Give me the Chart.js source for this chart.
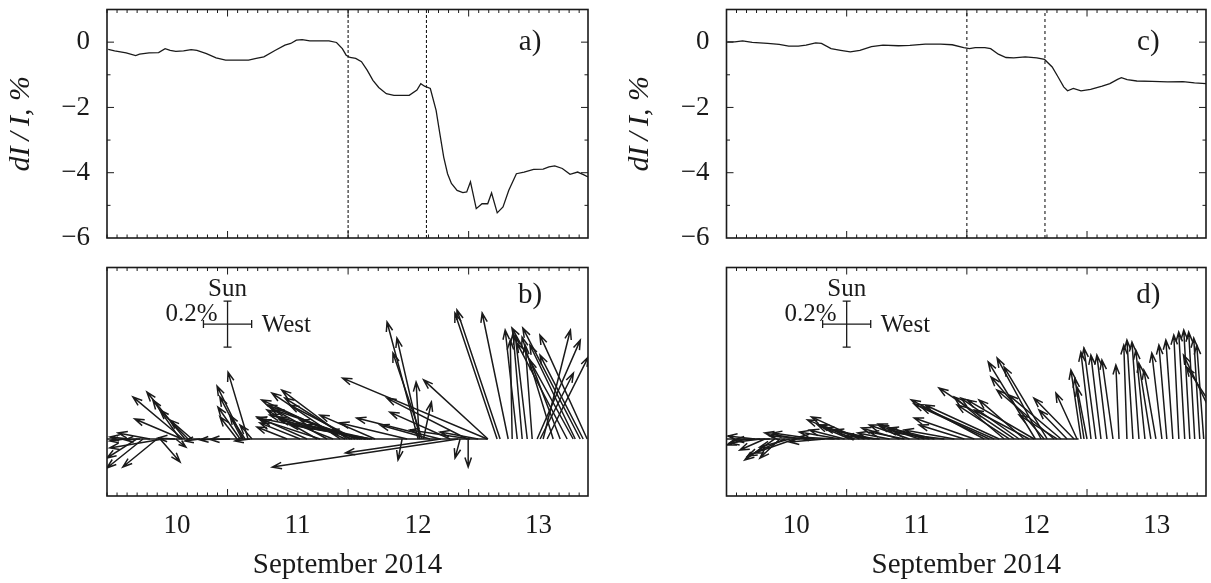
<!DOCTYPE html>
<html>
<head>
<meta charset="utf-8">
<script src="https://cdn.jsdelivr.net/npm/chart.js@4.4.0/dist/chart.umd.min.js"></script>
<style>
  body { margin: 0; background: #fff; width: 1211px; height: 583px; overflow: hidden; position: relative; }
  canvas { position: absolute; }
</style>
</head>
<body>
<canvas id="panelA" width="600" height="250" style="left:0;top:0"></canvas>
<canvas id="panelB" width="600" height="333" style="left:0;top:250px"></canvas>
<canvas id="panelC" width="606" height="250" style="left:605px;top:0"></canvas>
<canvas id="panelD" width="606" height="333" style="left:605px;top:250px"></canvas>
<script>
const FONT = "'Liberation Serif', 'Times New Roman', serif";
const INK = '#1a1a1a';

// time axis, days of September 2014
const xMin = 9.42, xMax = 13.41;
const dayLabels = [10, 11, 12, 13];
const majorTicks = [10.42, 11.42, 12.42];
const minorStep = 1 / 12;          // 2 hours
const eventTimes = [11.42, 12.07]; // dashed markers
const yTicksTop = [-6, -4, -2, 0];

// a) intensity variation, %
const timeA = [9.43, 9.483, 9.579, 9.658, 9.69, 9.769, 9.848, 9.902, 9.944, 9.991, 10.055, 10.118,
  10.166, 10.245, 10.325, 10.404, 10.499, 10.594, 10.658, 10.721, 10.817, 10.896, 10.944, 10.991,
  11.039, 11.102, 11.166, 11.261, 11.324, 11.372, 11.404, 11.436, 11.483, 11.531, 11.578, 11.626,
  11.674, 11.737, 11.8, 11.864, 11.927, 11.991, 12.023, 12.054, 12.102, 12.15, 12.181, 12.213,
  12.245, 12.277, 12.324, 12.372, 12.404, 12.435, 12.483, 12.531, 12.578, 12.61, 12.657, 12.705,
  12.753, 12.816, 12.88, 12.959, 13.038, 13.086, 13.134, 13.197, 13.261, 13.324, 13.372, 13.41];
const intensA = [-0.22, -0.27, -0.33, -0.41, -0.37, -0.33, -0.32, -0.2, -0.25, -0.28, -0.27, -0.23,
  -0.25, -0.35, -0.48, -0.55, -0.55, -0.55, -0.5, -0.45, -0.25, -0.09, -0.04, 0.06,
  0.08, 0.04, 0.04, 0.04, -0.01, -0.2, -0.4, -0.47, -0.5, -0.6, -0.86, -1.17,
  -1.39, -1.58, -1.63, -1.63, -1.63, -1.47, -1.27, -1.35, -1.42, -2.09, -2.8, -3.52,
  -4.03, -4.33, -4.54, -4.61, -4.59, -4.28, -5.1, -4.95, -4.95, -4.62, -5.23, -5.05,
  -4.54, -4.03, -3.98, -3.9, -3.89, -3.82, -3.79, -3.87, -4.05, -3.98, -4.06, -4.13];

// c) intensity variation, %
const timeC = [9.426, 9.49, 9.554, 9.634, 9.762, 9.858, 9.938, 10.018, 10.082, 10.162, 10.21, 10.29,
  10.37, 10.45, 10.53, 10.626, 10.722, 10.85, 10.946, 11.074, 11.202, 11.298, 11.394, 11.442,
  11.49, 11.57, 11.618, 11.682, 11.746, 11.81, 11.906, 12.002, 12.066, 12.13, 12.178, 12.226,
  12.258, 12.306, 12.37, 12.45, 12.546, 12.61, 12.674, 12.706, 12.754, 12.834, 12.962, 13.09,
  13.218, 13.314, 13.41];
const intensC = [0.01, 0.01, 0.04, -0.01, -0.04, -0.07, -0.12, -0.12, -0.09, -0.02, -0.04, -0.2,
  -0.25, -0.3, -0.25, -0.14, -0.09, -0.11, -0.1, -0.06, -0.06, -0.08, -0.17, -0.2,
  -0.17, -0.17, -0.2, -0.37, -0.47, -0.48, -0.45, -0.48, -0.53, -0.76, -1.06, -1.37,
  -1.49, -1.42, -1.49, -1.45, -1.35, -1.27, -1.14, -1.09, -1.15, -1.19, -1.2, -1.22,
  -1.21, -1.25, -1.27];

// b) anisotropy vectors: base time, west and sunward components, %
const timeB = [9.569, 9.611, 9.669, 9.694, 9.719, 9.777, 9.835, 9.86, 9.885, 9.984, 9.99,
  10.026, 10.042, 10.051, 10.067, 10.092, 10.125, 10.192, 10.316, 10.441, 10.499, 10.524, 10.54,
  10.549, 10.565, 10.59, 10.607, 10.623, 10.914, 11.022, 11.08, 11.163, 11.188, 11.246, 11.296,
  11.354, 11.395, 11.412, 11.437, 11.453, 11.478, 11.503, 11.52, 11.536, 11.561, 11.569, 11.586,
  11.603, 11.619, 11.644, 11.868, 11.91, 12.001, 12.01,
  12.017, 12.034, 12.045, 12.1, 12.183, 12.19, 12.266, 12.333, 12.349, 12.408, 12.416, 12.432,
  12.499, 12.574, 12.58, 12.656, 12.681, 12.748, 12.781, 12.823, 12.864, 12.906, 12.947, 12.988,
  13.013, 13.038, 13.071, 13.121, 13.179, 13.237, 13.287, 13.304, 13.345, 13.37, 13.403];
const westB = [-0.063, -0.083, -0.125, -0.063, -0.15, -0.133, -0.142, 0.083, -0.221, -0.071, 0.042,
  -0.113, -0.196, -0.208, -0.158, -0.117, -0.092, -0.063, -0.063, -0.083, -0.071, -0.092, -0.092,
  -0.108, -0.063, -0.083, -0.063, -0.05, -0.125, -0.167, -0.208, -0.208, -0.242, -0.238, -0.233,
  -0.283, -0.346, -0.271, -0.271, -0.35, -0.271, -0.346, -0.25, -0.383, -0.25, -0.358, -0.458,
  -0.167, -0.342, -0.229, -0.017, -0.279, -0.129, -0.013,
  -0.096, -0.121, 0.033, -0.208, -0.346, -0.396, -0.25, -0.771, -0.021, -0.333, 0, -0.25,
  -0.158, -0.6, -0.267, -0.175, -0.179, -0.108, -0.008, -0.05, -0.038, -0.05, -0.029, 0.179,
  0.138, 0.113, 0.171, -0.129, -0.125, -0.208, -0.254, -0.188, -0.238, -0.179, -0.196];
const sunB = [-0.009, 0.009, -0.083, -0.004, -0.126, 0.026, -0.122, -0.1, -0.039, 0.004, -0.035,
  0.17, 0.087, 0.183, 0.204, 0.126, 0.083, -0.009, -0.004, -0.002, 0.096, 0.139, 0.183,
  0.23, 0.104, 0.291, -0.009, 0.061, 0.052, 0.07, 0.096, 0.126, 0.083, 0.139, 0.096,
  0.2, 0.17, 0.213, 0.178, 0.148, 0.148, 0.126, 0.083, 0.104, 0.061, 0.083, 0.091,
  0.039, 0.061, 0.104, -0.091, 0.07, 0.509, 0.248,
  0.439, 0.374, 0.161, 0.061, 0.091, -0.061, 0.117, -0.122, -0.083, 0.178, -0.122, 0.039,
  0.03, 0.265, 0.257, 0.548, 0.561, 0.548, 0.43, 0.474, 0.461, 0.452, 0.409, 0.43,
  0.287, 0.474, 0.357, 0.443, 0.343, 0.417, 0.483, 0.409, 0.483, 0.365, 0.452];

// d) anisotropy vectors
const timeD = [9.574, 9.657, 9.698, 9.739, 9.781, 9.822, 9.864, 9.905, 9.947, 9.988,
  10.03, 10.113, 10.154, 10.237, 10.32, 10.361, 10.403, 10.444, 10.486, 10.527,
  10.569, 10.611, 10.652, 10.694, 10.777, 10.86, 10.901, 10.943, 11.026, 11.067,
  11.109, 11.15, 11.233, 11.316, 11.399, 11.482, 11.565, 11.607, 11.648, 11.689,
  11.731, 11.773, 11.814, 11.855, 11.897, 11.939, 11.98, 11.99, 12.038, 12.063,
  12.088, 12.146, 12.171, 12.204, 12.254, 12.312, 12.337, 12.37, 12.395, 12.42,
  12.453, 12.494, 12.536, 12.586, 12.636, 12.686, 12.752, 12.802, 12.852, 12.902,
  12.951, 12.993, 13.043, 13.084, 13.134, 13.184, 13.233, 13.275, 13.316, 13.358,
  13.391, 13.557, 13.64];
const westD = [-0.075, -0.113, -0.125, -0.104, -0.146, -0.125, -0.083, -0.154, -0.125, -0.167,
  -0.146, -0.167, -0.175, -0.146, -0.146, -0.167, -0.146, -0.133, -0.196, -0.2,
  -0.188, -0.188, -0.167, -0.146, -0.133, -0.158, -0.146, -0.167, -0.167, -0.192,
  -0.175, -0.188, -0.208, -0.208, -0.188, -0.25, -0.304, -0.313, -0.304, -0.308,
  -0.208, -0.217, -0.313, -0.242, -0.188, -0.229, -0.279, -0.196, -0.183, -0.221,
  -0.179, -0.238, -0.158, -0.217, -0.117, -0.167, -0.088, -0.042, -0.038, -0.042,
  -0.042, -0.05, -0.042, -0.042, -0.046, -0.013, -0.013, -0.025, -0.029, -0.038,
  -0.05, -0.05, -0.042, -0.033, -0.029, -0.021, -0.025, -0.025, -0.025, -0.025,
  -0.029, -0.167, -0.196];
const sunD = [-0.026, 0.013, -0.017, -0.048, -0.004, -0.091, -0.083, -0.074, -0.035, -0.061,
  0.026, 0.013, 0.026, -0.013, 0.009, 0.03, 0.039, 0.061, 0.083, 0.096,
  0.061, 0.048, 0.039, 0.013, 0.026, 0.048, 0.03, 0.061, 0.057, 0.065,
  0.039, 0.048, 0.026, 0.039, 0.061, 0.091, 0.17, 0.152, 0.139, 0.148,
  0.183, 0.148, 0.222, 0.178, 0.17, 0.126, 0.17, 0.335, 0.352, 0.27,
  0.313, 0.213, 0.104, 0.191, 0.126, 0.178, 0.2, 0.3, 0.265, 0.226,
  0.378, 0.396, 0.365, 0.365, 0.343, 0.322, 0.409, 0.43, 0.422, 0.387,
  0.33, 0.3, 0.374, 0.409, 0.43, 0.452, 0.465, 0.474, 0.465, 0.439,
  0.409, 0.365, 0.313];

const daysPerPercent = 2;            // horizontal size of a 1% vector, in days
const vecMin = -0.248, vecMax = 0.746;
const zeroEndB = 12.58, zeroEndD = 12.35;
const keyTime = 10.42, keySun = 0.5, keyLen = 0.2;

const minus = v => String(v).replace('-', '\u2212');

function framePlugin(withY) {
  return {
    id: 'frame',
    afterDatasetsDraw(chart) {
      const { ctx, chartArea: a, scales: { x, y } } = chart;
      ctx.save();
      ctx.strokeStyle = INK;
      ctx.lineWidth = 1;
      ctx.beginPath();
      for (let k = 0; xMin + k * minorStep <= xMax + 1e-6; k++) {
        const v = xMin + k * minorStep;
        const major = majorTicks.some(m => Math.abs(m - v) < 1e-3);
        const len = major ? 7 : 3.5;
        const px = x.getPixelForValue(v);
        ctx.moveTo(px, a.bottom); ctx.lineTo(px, a.bottom - len);
        ctx.moveTo(px, a.top); ctx.lineTo(px, a.top + len);
      }
      if (withY) {
        for (let v = -5; v <= 0; v++) {
          const len = v % 2 === 0 ? 7 : 3.5;
          const py = y.getPixelForValue(v);
          ctx.moveTo(a.left, py); ctx.lineTo(a.left + len, py);
          ctx.moveTo(a.right, py); ctx.lineTo(a.right - len, py);
        }
      }
      ctx.stroke();
      ctx.lineWidth = 1.6;
      ctx.strokeRect(a.left, a.top, a.right - a.left, a.bottom - a.top);
      ctx.restore();
    }
  };
}

function labelPlugin(text, xv, yv) {
  return {
    id: 'panelLabel',
    afterDatasetsDraw(chart) {
      const { ctx, scales: { x, y } } = chart;
      ctx.save();
      ctx.fillStyle = INK;
      ctx.font = '29px ' + FONT;
      ctx.textAlign = 'center';
      ctx.textBaseline = 'middle';
      ctx.fillText(text, x.getPixelForValue(xv), y.getPixelForValue(yv));
      ctx.restore();
    }
  };
}

function vectorPlugin(time, west, sun) {
  return {
    id: 'vectors',
    afterDatasetsDraw(chart) {
      const { ctx, chartArea: a, scales: { x, y } } = chart;
      ctx.save();
      ctx.beginPath();
      ctx.rect(a.left, a.top, a.right - a.left, a.bottom - a.top);
      ctx.clip();
      ctx.strokeStyle = INK;
      ctx.lineWidth = 1.5;
      const y0 = y.getPixelForValue(0);
      time.forEach((t, i) => {
        const x0 = x.getPixelForValue(t);
        const x1 = x.getPixelForValue(t + west[i] * daysPerPercent);
        const y1 = y.getPixelForValue(sun[i]);
        const ang = Math.atan2(y1 - y0, x1 - x0);
        const h = Math.min(10, Math.hypot(x1 - x0, y1 - y0) * 0.6);
        ctx.beginPath();
        ctx.moveTo(x0, y0);
        ctx.lineTo(x1, y1);
        ctx.moveTo(x1 - h * Math.cos(ang - 0.33), y1 - h * Math.sin(ang - 0.33));
        ctx.lineTo(x1, y1);
        ctx.lineTo(x1 - h * Math.cos(ang + 0.33), y1 - h * Math.sin(ang + 0.33));
        ctx.stroke();
      });
      ctx.restore();

      // scale key: 0.2% towards the Sun and towards the West
      const cx = x.getPixelForValue(keyTime), cy = y.getPixelForValue(keySun);
      const top = y.getPixelForValue(keySun + keyLen / 2), bot = y.getPixelForValue(keySun - keyLen / 2);
      const lft = x.getPixelForValue(keyTime - keyLen / 2 * daysPerPercent);
      const rgt = x.getPixelForValue(keyTime + keyLen / 2 * daysPerPercent);
      ctx.save();
      ctx.strokeStyle = INK;
      ctx.lineWidth = 1.3;
      ctx.beginPath();
      ctx.moveTo(cx, top); ctx.lineTo(cx, bot);
      ctx.moveTo(cx - 4, top); ctx.lineTo(cx + 4, top);
      ctx.moveTo(cx - 4, bot); ctx.lineTo(cx + 4, bot);
      ctx.moveTo(lft, cy); ctx.lineTo(rgt, cy);
      ctx.moveTo(lft, cy - 4); ctx.lineTo(lft, cy + 4);
      ctx.moveTo(rgt, cy - 4); ctx.lineTo(rgt, cy + 4);
      ctx.stroke();
      ctx.fillStyle = INK;
      ctx.font = '25px ' + FONT;
      ctx.textBaseline = 'middle';
      ctx.textAlign = 'center';
      ctx.fillText('Sun', cx, top - 12);
      ctx.textAlign = 'right';
      ctx.fillText('0.2%', cx - 10, cy - 10);
      ctx.textAlign = 'left';
      ctx.fillText('West', rgt + 10, cy + 1);
      ctx.restore();
    }
  };
}

function topChart(id, time, vals, yWidth, titlePad, rightPad, label, dash) {
  const datasets = [{
    data: time.map((t, i) => ({ x: t, y: vals[i] })),
    borderColor: INK, borderWidth: 1.3, pointRadius: 0, tension: 0
  }];
  eventTimes.forEach(t => datasets.push({
    data: [{ x: t, y: -6 }, { x: t, y: 1 }],
    borderColor: INK, borderWidth: 1.1, borderDash: dash, pointRadius: 0
  }));
  return new Chart(document.getElementById(id), {
    type: 'line',
    data: { datasets },
    options: {
      responsive: false, animation: false, events: [],
      layout: { padding: { left: 0, top: 9.5, right: rightPad, bottom: 12 } },
      plugins: { legend: { display: false }, tooltip: { enabled: false } },
      scales: {
        x: { type: 'linear', min: xMin, max: xMax, display: false },
        y: {
          min: -6, max: 1,
          afterBuildTicks: s => { s.ticks = yTicksTop.map(v => ({ value: v })); },
          afterFit: s => { s.width = yWidth; s.paddingTop = 0; s.paddingBottom = 0; },
          grid: { display: false, drawTicks: false },
          border: { display: false },
          ticks: { padding: 17, color: INK, font: { family: FONT, size: 27 }, callback: minus },
          title: {
            display: true, text: 'dI\u2009/\u2009I, %', color: INK,
            font: { family: FONT, size: 30, style: 'italic' }, padding: { top: titlePad, bottom: 0 }
          }
        }
      }
    },
    plugins: [framePlugin(true), labelPlugin(label, 12.93, 0)]
  });
}

function vectorChart(id, time, west, sun, zeroEnd, leftPad, rightPad, label) {
  return new Chart(document.getElementById(id), {
    type: 'line',
    data: {
      datasets: [{
        data: [{ x: xMin, y: 0 }, { x: zeroEnd, y: 0 }],
        borderColor: INK, borderWidth: 1.5, pointRadius: 0
      }]
    },
    options: {
      responsive: false, animation: false, events: [],
      layout: { padding: { left: leftPad, top: 17.5, right: rightPad, bottom: 0 } },
      plugins: { legend: { display: false }, tooltip: { enabled: false } },
      scales: {
        x: {
          type: 'linear', min: xMin, max: xMax,
          afterBuildTicks: s => { s.ticks = dayLabels.map(v => ({ value: v })); },
          afterFit: s => { s.height = 87; s.paddingLeft = 0; s.paddingRight = 0; },
          grid: { display: false, drawTicks: false },
          border: { display: false },
          ticks: { padding: 14, maxRotation: 0, autoSkip: false, color: INK, font: { family: FONT, size: 27 } },
          title: {
            display: true, text: 'September 2014', color: INK,
            font: { family: FONT, size: 29 }, padding: { top: 0, bottom: 0 }
          }
        },
        y: { min: vecMin, max: vecMax, display: false }
      }
    },
    plugins: [framePlugin(false), vectorPlugin(time, west, sun), labelPlugin(label, 12.93, 0.626)]
  });
}

topChart('panelA', timeA, intensA, 107, 3, 12, 'a)', [3, 2]);
vectorChart('panelB', timeB, westB, sunB, zeroEndB, 107, 12, 'b)');
topChart('panelC', timeC, intensC, 121.5, 17.5, 5, 'c)', [3, 3]);
vectorChart('panelD', timeD, westD, sunD, zeroEndD, 121.5, 5, 'd)');
</script>
</body>
</html>
